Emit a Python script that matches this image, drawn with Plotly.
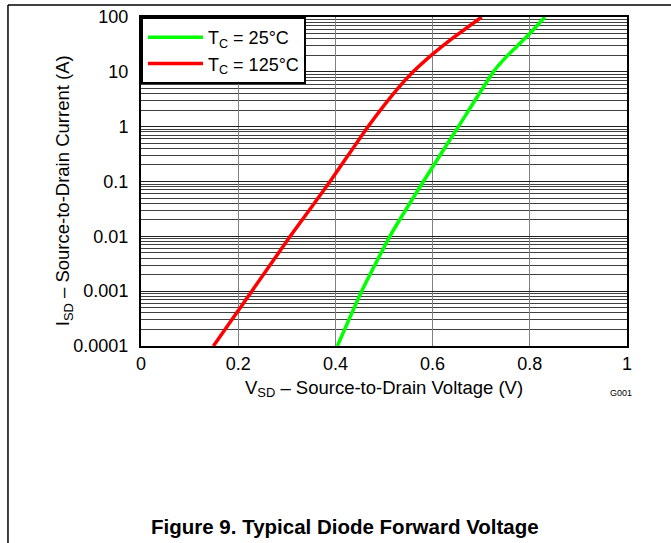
import plotly.graph_objects as go

# Data (V_SD in volts, I_SD in amps)
v_25c = [0.404, 0.454, 0.512, 0.581, 0.653, 0.725, 0.752, 0.773, 0.800, 0.831]
i_25c = [1e-4, 1e-3, 1e-2, 0.1, 1.0, 10.0, 18.9, 28.8, 50.0, 100.0]

v_125c = [0.149, 0.228, 0.307, 0.389, 0.467, 0.526, 0.560, 0.600, 0.636, 0.701]
i_125c = [1e-4, 1e-3, 1e-2, 0.1, 1.0, 4.7, 10.0, 21.0, 38.0, 100.0]

x_ticks = [0, 0.2, 0.4, 0.6, 0.8, 1]
x_ticktext = ["0", "0.2", "0.4", "0.6", "0.8", "1"]
y_ticks = [1e-4, 1e-3, 1e-2, 1e-1, 1, 10, 100]
y_ticktext = ["0.0001", "0.001", "0.01", "0.1", "1", "10", "100"]
y_minor = [m * 10.0 ** e for e in range(-4, 2) for m in range(2, 10)]

FONT = "Liberation Sans, Arial, sans-serif"

fig = go.Figure()
fig.add_trace(go.Scatter(x=v_25c, y=i_25c, mode="lines", name="T<sub>C</sub> = 25°C",
                         line=dict(color="#00ff00", width=3.5, shape="spline", smoothing=0.4)))
fig.add_trace(go.Scatter(x=v_125c, y=i_125c, mode="lines", name="T<sub>C</sub> = 125°C",
                         line=dict(color="#ff0000", width=3.5, shape="spline", smoothing=0.4)))

fig.update_layout(
    width=671, height=543,
    margin=dict(l=141, r=44, t=17, b=197, autoexpand=False),
    paper_bgcolor="white", plot_bgcolor="white",
    font=dict(family=FONT, size=18, color="black"),
    showlegend=True,
    legend=dict(x=0, y=1, xanchor="left", yanchor="top",
                bgcolor="white", bordercolor="black", borderwidth=2,
                font=dict(size=18), itemwidth=55,
                tracegroupgap=0),
    xaxis=dict(range=[0, 1], tickvals=x_ticks, ticktext=x_ticktext,
               showgrid=True, gridcolor="#808080", gridwidth=1,
               showline=True, linecolor="black", linewidth=2, mirror=True,
               zeroline=False, ticks="", ticklen=0, automargin=False,
               ticklabelstandoff=0, tickfont=dict(size=18),
               title=dict(text="V<sub>SD</sub> – Source-to-Drain Voltage (V)", standoff=8,
                          font=dict(size=18.5))),
    yaxis=dict(type="log", range=[-4, 2], tickvals=y_ticks, ticktext=y_ticktext,
               showgrid=True, gridcolor="#202020", gridwidth=1,
               minor=dict(tickvals=y_minor, showgrid=True, gridcolor="#404040", gridwidth=1, ticks=""),
               showline=True, linecolor="black", linewidth=2, mirror=True,
               zeroline=False, ticks="", ticklen=0, automargin=False,
               ticklabelstandoff=7, tickfont=dict(size=18)),
)

# Y axis title (placed as rotated text)
fig.add_annotation(text="I<sub>SD</sub> – Source-to-Drain Current (A)", xref="paper", yref="paper",
                   x=-0.158, y=0.471, textangle=-90, showarrow=False,
                   font=dict(size=18.5, family=FONT), xanchor="center", yanchor="middle")

# Page frame lines
fig.add_shape(type="line", xref="paper", yref="paper", x0=-0.2737, x1=1.1, y0=1.0365, y1=1.0365,
              line=dict(color="black", width=1.5))
fig.add_shape(type="line", xref="paper", yref="paper", x0=-0.2737, x1=-0.2737, y0=1.0365, y1=-0.6,
              line=dict(color="black", width=1.5))

fig.add_annotation(text="G001", xref="paper", yref="paper", x=0.988, y=-0.143,
                   showarrow=False, font=dict(size=9, family=FONT), xanchor="center", yanchor="middle")
fig.add_annotation(text="<b>Figure 9. Typical Diode Forward Voltage</b>", xref="paper", yref="paper",
                   x=0.42, y=-0.55, showarrow=False, font=dict(size=20.5, family=FONT),
                   xanchor="center", yanchor="middle")

fig.write_html("out.html", config={"displayModeBar": False},
               post_script="document.body.style.margin='0px';")
